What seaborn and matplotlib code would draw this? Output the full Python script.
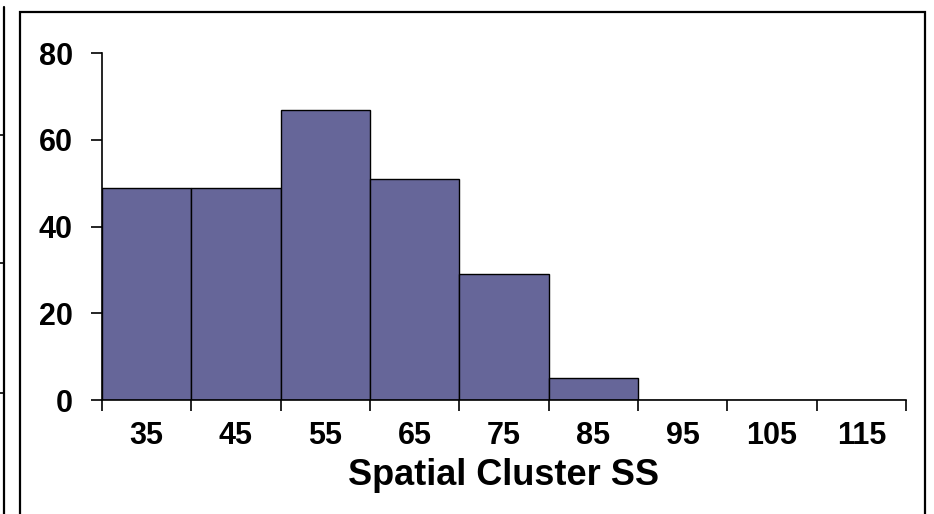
import seaborn as sns
import matplotlib.pyplot as plt
from matplotlib.patches import Rectangle
from matplotlib.lines import Line2D
import numpy as np

# histogram counts, bins of width 10 from 30 to 120
bin_edges = [30, 40, 50, 60, 70, 80, 90, 100, 110, 120]
bin_centers = [35, 45, 55, 65, 75, 85, 95, 105, 115]
counts = [49, 49, 67, 51, 29, 5, 0, 0, 0]
tick_labels = ['35', '45', '55', '65', '75', '85', '95', '105', '115']
y_ticks = [0, 20, 40, 60, 80]
x_label = 'Spatial Cluster SS'

sns.set_style('white')
plt.rcParams['font.family'] = ['Liberation Sans', 'DejaVu Sans']
plt.rcParams['font.weight'] = 'bold'
plt.rcParams['text.color'] = 'black'
plt.rcParams['axes.labelcolor'] = 'black'
plt.rcParams['xtick.color'] = 'black'
plt.rcParams['ytick.color'] = 'black'

W, H = 934, 514
fig = plt.figure(figsize=(W / 100, H / 100), dpi=100)
ax = fig.add_axes([102 / W, 1 - 400 / H, (906 - 102) / W, (400 - 53.3) / H])

sns.histplot(x=bin_centers, weights=counts, bins=bin_edges, color='#666699',
             edgecolor='black', linewidth=1, alpha=1, ax=ax)

ax.set_xlim(30, 120)
ax.set_ylim(0, 80)

# tick marks on bin edges, labels on bin centres
ax.set_xticks(bin_edges)
ax.set_xticklabels([])
ax.set_xticks(bin_centers, minor=True)
ax.set_xticklabels(tick_labels, minor=True, fontsize=22, fontweight='bold', color='black')
ax.tick_params(axis='x', which='major', direction='out', length=8, width=1.2, color='black', bottom=True)
ax.tick_params(axis='x', which='minor', length=0, pad=15, bottom=True)

ax.set_yticks(y_ticks)
ax.set_yticklabels([str(v) for v in y_ticks], fontsize=22, fontweight='bold', color='black')
ax.tick_params(axis='y', direction='out', length=8, width=1.2, color='black', pad=13, left=True)

ax.set_ylabel('')
ax.set_xlabel(x_label, fontsize=26, fontweight='bold', labelpad=5, color='black')

for side in ['top', 'right']:
    ax.spines[side].set_visible(False)
for side in ['left', 'bottom']:
    ax.spines[side].set_color('black')
    ax.spines[side].set_linewidth(1.2)

# outer frame of the chart
fig.patches.append(Rectangle((20 / W, -0.02), (925 - 20) / W, 1 - 12 / H + 0.02,
                             transform=fig.transFigure, fill=False,
                             edgecolor='black', linewidth=1.6))

# edge of the neighbouring chart on the left
fig.add_artist(Line2D([3.5 / W, 3.5 / W], [0, 1 - 7 / H], transform=fig.transFigure,
                      color='black', linewidth=1.6))
for ty in [135, 263, 393]:
    fig.add_artist(Line2D([0, 3.5 / W], [1 - ty / H, 1 - ty / H], transform=fig.transFigure,
                          color='black', linewidth=1.2))

fig.savefig('out.png', dpi=100)
